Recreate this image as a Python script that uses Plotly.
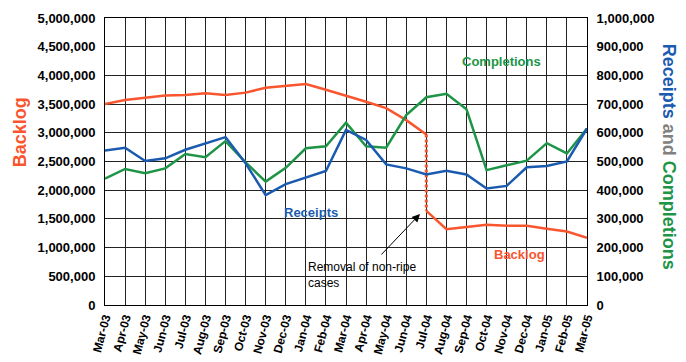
import plotly.graph_objects as go

months = ["Mar-03", "Apr-03", "May-03", "Jun-03", "Jul-03", "Aug-03", "Sep-03", "Oct-03",
          "Nov-03", "Dec-03", "Jan-04", "Feb-04", "Mar-04", "Apr-04", "May-04", "Jun-04",
          "Jul-04", "Aug-04", "Sep-04", "Oct-04", "Nov-04", "Dec-04", "Jan-05", "Feb-05", "Mar-05"]

backlog_before = [3500000, 3570000, 3610000, 3650000, 3660000, 3690000, 3660000, 3700000,
                  3785000, 3820000, 3850000, 3750000, 3650000, 3540000, 3430000, 3220000, 2970000]
backlog_after = [1640000, 1320000, 1360000, 1400000, 1380000, 1380000, 1330000, 1280000, 1170000]

receipts = [538000, 548000, 502000, 511000, 541000, 564000, 585000, 494000, 383000, 421000,
            444000, 467000, 610000, 575000, 490000, 476000, 455000, 468000, 455000, 406000,
            415000, 480000, 484000, 500000, 615000]
completions = [440000, 474000, 459000, 476000, 526000, 515000, 571000, 497000, 430000, 478000,
               546000, 553000, 635000, 553000, 548000, 662000, 724000, 736000, 682000, 470000,
               487000, 503000, 564000, 528000, 615000]

RED = "#F9552E"
BLUE = "#1A5BB0"
GREEN = "#1E9447"
GRAY = "#808080"
FONT = "Liberation Sans, Arial, sans-serif"

n_before = len(backlog_before)
x_before = months[:n_before]
x_after = months[n_before - 1:]

fig = go.Figure()
fig.add_trace(go.Scatter(x=x_before, y=backlog_before, mode="lines",
                         line=dict(color=RED, width=2.5), name="Backlog", yaxis="y"))
fig.add_trace(go.Scatter(x=[months[n_before - 1]] * 2, y=[backlog_before[-1], backlog_after[0]],
                         mode="lines", line=dict(color=RED, width=3, dash="3px,2px"),
                         name="Removal", yaxis="y"))
fig.add_trace(go.Scatter(x=x_after, y=backlog_after, mode="lines",
                         line=dict(color=RED, width=2.5), name="Backlog", yaxis="y"))
fig.add_trace(go.Scatter(x=months, y=completions, mode="lines",
                         line=dict(color=GREEN, width=2.5), name="Completions", yaxis="y2"))
fig.add_trace(go.Scatter(x=months, y=receipts, mode="lines",
                         line=dict(color=BLUE, width=2.5), name="Receipts", yaxis="y2"))

fig.update_layout(
    width=686, height=362, autosize=False,
    margin=dict(l=105, r=99, t=18, b=57),
    paper_bgcolor="white", plot_bgcolor="white",
    showlegend=False,
    font=dict(family=FONT, color="black"),
    xaxis=dict(type="category", categoryorder="array", categoryarray=months,
               range=[0, len(months) - 1], showgrid=True, gridcolor="#222222", gridwidth=1,
               showline=True, linecolor="black", linewidth=1, mirror=True,
               tickangle=-75, tickfont=dict(size=12, family=FONT, weight="bold"),
               ticks="", zeroline=False, automargin=False),
    yaxis=dict(range=[0, 5000000], dtick=500000, tickformat=",d",
               showgrid=True, gridcolor="#222222", gridwidth=1,
               showline=True, linecolor="black", linewidth=1, mirror=True,
               tickfont=dict(size=13, family=FONT, weight="bold"),
               ticks="outside", ticklen=6, tickcolor="rgba(0,0,0,0)", zeroline=False,
               automargin=False),
    yaxis2=dict(range=[0, 1000000], dtick=100000, tickformat=",d", overlaying="y", side="right",
                showgrid=False, showline=False, zeroline=False,
                tickfont=dict(size=13, family=FONT, weight="bold"),
                ticks="outside", ticklen=6, tickcolor="rgba(0,0,0,0)", automargin=False),
)

ann = []
ann.append(dict(text="Backlog", x=-0.177, y=0.601, xref="paper", yref="paper", showarrow=False,
                textangle=-90, xanchor="center", yanchor="middle",
                font=dict(family=FONT, size=18, color=RED, weight="bold")))
ann.append(dict(text=f'<span style="color:{BLUE}">Receipts</span> <span style="color:{GRAY}">and</span> '
                     f'<span style="color:{GREEN}">Completions</span>',
                x=1.17, y=0.517, xref="paper", yref="paper", showarrow=False,
                textangle=90, xanchor="center", yanchor="middle",
                font=dict(family=FONT, size=18, weight="bold")))
ann.append(dict(text="Receipts", x=0.427, y=0.324, xref="paper", yref="paper", showarrow=False,
                xanchor="center", yanchor="middle",
                font=dict(family=FONT, size=13, color=BLUE, weight="bold")))
ann.append(dict(text="Completions", x=0.822, y=0.847, xref="paper", yref="paper", showarrow=False,
                xanchor="center", yanchor="middle",
                font=dict(family=FONT, size=13, color=GREEN, weight="bold")))
ann.append(dict(text="Backlog", x=0.859, y=0.177, xref="paper", yref="paper", showarrow=False,
                xanchor="center", yanchor="middle",
                font=dict(family=FONT, size=13, color=RED, weight="bold")))
ann.append(dict(text="Removal of non-ripe<br>cases", x=0.417, y=0.106, xref="paper", yref="paper",
                showarrow=False, xanchor="left", yanchor="middle", align="left",
                font=dict(family=FONT, size=12, color="black")))
ann.append(dict(text="", x=0.6535, y=0.317, xref="paper", yref="paper", showarrow=True,
                ax=-40, ay=42, arrowhead=2, arrowsize=1.6, arrowwidth=1, arrowcolor="black"))
fig.update_layout(annotations=ann)

fig.write_html("out.html")
